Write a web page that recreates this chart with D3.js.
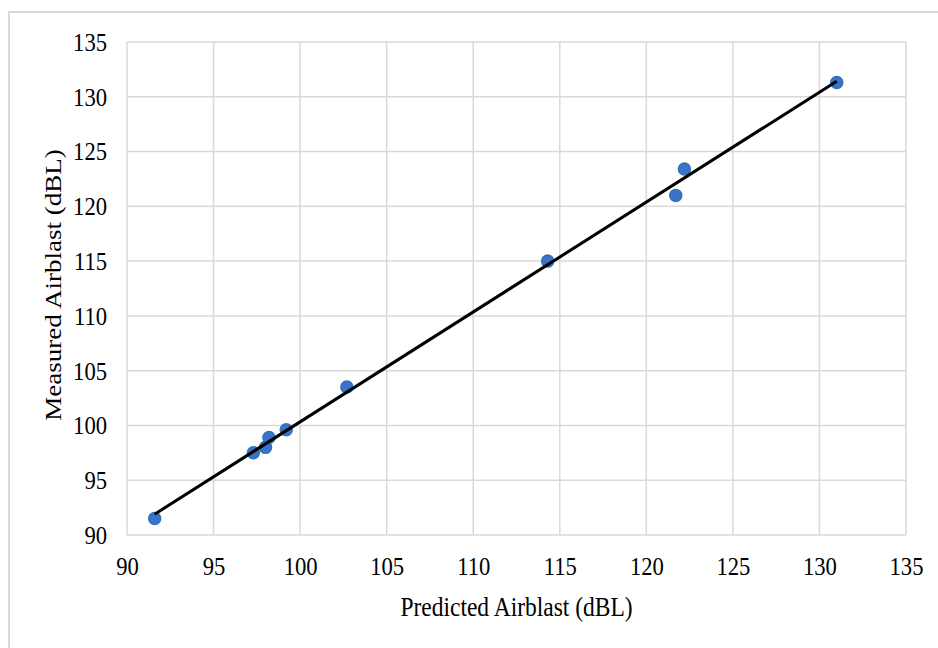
<!DOCTYPE html>
<html>
<head>
<meta charset="utf-8">
<script src="https://cdn.jsdelivr.net/npm/d3@7"></script>
<style>
  body { margin: 0; background: #fff; }
  text { font-family: "Liberation Serif", "Times New Roman", serif; fill: #000; }
</style>
</head>
<body>
<div id="chart"></div>
<script>
// data
var predicted = [91.6, 97.3, 98.0, 98.2, 99.2, 102.7, 114.3, 121.7, 122.2, 131.0];
var measured  = [91.5, 97.5, 98.0, 98.9, 99.6, 103.5, 115.0, 121.0, 123.4, 131.3];
var xTicks = [90, 95, 100, 105, 110, 115, 120, 125, 130, 135];
var yTicks = [90, 95, 100, 105, 110, 115, 120, 125, 130, 135];

var W = 938, H = 648;
var margin = {top: 42, right: 32, bottom: 113, left: 127},
    width = W - margin.left - margin.right,
    height = H - margin.top - margin.bottom;

// the source picture is a little squeezed sideways
var squeeze = 0.87;

var svg = d3.select("#chart").append("svg")
    .attr("width", W)
    .attr("height", H);

// outer chart border
svg.append("rect")
    .attr("x", 9).attr("y", 12)
    .attr("width", W).attr("height", H)
    .attr("fill", "none")
    .attr("stroke", "#d9d9d9")
    .attr("stroke-width", 2);

var g = svg.append("g")
    .attr("transform", "translate(" + margin.left + "," + margin.top + ")");

var x = d3.scaleLinear().domain([90, 135]).range([0, width]);
var y = d3.scaleLinear().domain([90, 135]).range([height, 0]);

// grid
g.selectAll(".vgrid").data(xTicks).enter().append("line")
    .attr("x1", d => x(d)).attr("x2", d => x(d))
    .attr("y1", 0).attr("y2", height)
    .attr("stroke", "#d9d9d9").attr("stroke-width", 1.5);
g.selectAll(".hgrid").data(yTicks).enter().append("line")
    .attr("x1", 0).attr("x2", width)
    .attr("y1", d => y(d)).attr("y2", d => y(d))
    .attr("stroke", "#d9d9d9").attr("stroke-width", 1.5);

// axes (labels only, Excel style)
var xAxis = g.append("g")
    .attr("transform", "translate(0," + height + ")")
    .call(d3.axisBottom(x).tickValues(xTicks).tickSize(0).tickPadding(22));
xAxis.select(".domain").remove();
xAxis.selectAll("text")
    .style("font-size", "26px").attr("font-family", null)
    .attr("transform", "scale(" + squeeze + ",1)");

var yAxis = g.append("g")
    .call(d3.axisLeft(y).tickValues(yTicks).tickSize(0).tickPadding(23));
yAxis.select(".domain").remove();
yAxis.selectAll("text")
    .style("font-size", "26px").attr("font-family", null)
    .attr("transform", "scale(" + squeeze + ",1)");

// linear trend line (least squares)
var mx = d3.mean(predicted), my = d3.mean(measured);
var sxy = d3.sum(predicted, (p, i) => (p - mx) * (measured[i] - my));
var sxx = d3.sum(predicted, p => (p - mx) * (p - mx));
var slope = sxy / sxx, icpt = my - slope * mx;
var x0 = d3.min(predicted), x1 = d3.max(predicted);

// points
g.selectAll("circle").data(predicted).enter().append("circle")
    .attr("cx", d => x(d))
    .attr("cy", (d, i) => y(measured[i]))
    .attr("r", 6)
    .attr("fill", "#3c72c8")
    .attr("stroke", "#2e75b6")
    .attr("stroke-width", 1.5);

g.append("line")
    .attr("x1", x(x0)).attr("y1", y(icpt + slope * x0))
    .attr("x2", x(x1)).attr("y2", y(icpt + slope * x1))
    .attr("stroke", "#000").attr("stroke-width", 3);

// axis titles
svg.append("text")
    .attr("transform", "translate(" + (margin.left + width / 2) + ",616) scale(" + squeeze + ",1)")
    .attr("text-anchor", "middle")
    .style("font-size", "27px")
    .text("Predicted Airblast (dBL)");
svg.append("text")
    .attr("transform", "translate(61,285) rotate(-90) scale(1," + squeeze + ")")
    .attr("text-anchor", "middle")
    .style("font-size", "27px")
    .text("Measured Airblast (dBL)");
</script>
</body>
</html>
